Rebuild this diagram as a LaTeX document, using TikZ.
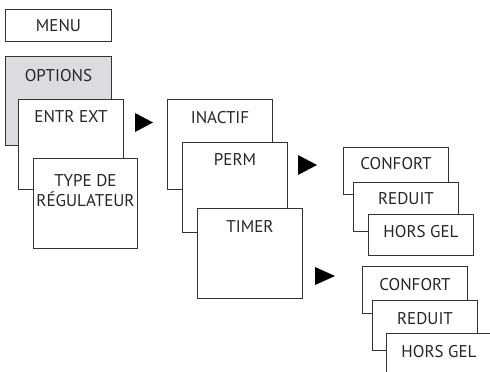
\documentclass[tikz,border=0pt]{standalone}
\usepackage{fontspec}
\setmainfont{PT Sans}
\definecolor{linec}{HTML}{333333}
\definecolor{optgray}{HTML}{DCDCDE}
\tikzset{
  box/.style={draw=linec, line width=1pt, fill=white, inner sep=0pt, anchor=north west},
  lbl/.style={font=\fontsize{17}{20}\selectfont, text=black!85, inner sep=0pt, anchor=base, align=center},
  tri/.style={fill=black}
}
\begin{document}
\begin{tikzpicture}[x=1pt,y=-1pt]
\clip (0,0) rectangle (490,372);
\useasboundingbox (0,0) rectangle (490,372);
% column 1
\node[box, minimum width=106, minimum height=32] (menu) at (5,9) {};
\node[lbl] (menut) at ([yshift=-22]menu.north) {MENU};
\node[box, fill=optgray, minimum width=106, minimum height=89] (opt) at (5,56) {};
\node[lbl] (optt) at ([yshift=-25]opt.north) {OPTIONS};
\node[box, minimum width=105, minimum height=90] (entr) at (18,99) {};
\node[lbl] (entrt) at ([yshift=-23]entr.north) {ENTR EXT};
\node[box, minimum width=104, minimum height=90] (type) at (33,158) {};
\node[lbl] (typet) at ([yshift=-48]type.north) {TYPE DE\\RÉGULATEUR};
% column 2
\node[box, minimum width=105, minimum height=90] (inac) at (167,99) {};
\node[lbl] (inact) at ([yshift=-24]inac.north) {INACTIF};
\node[box, minimum width=105, minimum height=90] (perm) at (182,142) {};
\node[lbl] (permt) at ([yshift=-23]perm.north) {PERM};
\node[box, minimum width=105, minimum height=90] (timer) at (197,208) {};
\node[lbl] (timert) at ([yshift=-24]timer.north) {TIMER};
% column 3 top
\node[box, minimum width=105, minimum height=47] (conf1) at (343,147) {};
\node[lbl] (conf1t) at ([yshift=-22.5]conf1.north) {CONFORT};
\node[box, minimum width=105, minimum height=49] (red1) at (353,182) {};
\node[lbl] (red1t) at ([yshift=-22]red1.north) {REDUIT};
\node[box, minimum width=105, minimum height=41] (hg1) at (368,214) {};
\node[lbl] (hg1t) at ([yshift=-23.5]hg1.north) {HORS GEL};
% column 3 bottom
\node[box, minimum width=105, minimum height=47] (conf2) at (362,266) {};
\node[lbl] (conf2t) at ([yshift=-24]conf2.north) {CONFORT};
\node[box, minimum width=105, minimum height=50] (red2) at (372,300) {};
\node[lbl] (red2t) at ([yshift=-24.5]red2.north) {REDUIT};
\node[box, minimum width=105, minimum height=50] (hg2) at (386,333) {};
\node[lbl] (hg2t) at ([yshift=-24.5]hg2.north) {HORS GEL};
% arrows
\fill[tri] (135,113) -- (135,132) -- (153,122.5) -- cycle;
\fill[tri] (298,155) -- (298,175) -- (317,165) -- cycle;
\fill[tri] (315,267) -- (315,285) -- (335,276) -- cycle;
\end{tikzpicture}
\end{document}
